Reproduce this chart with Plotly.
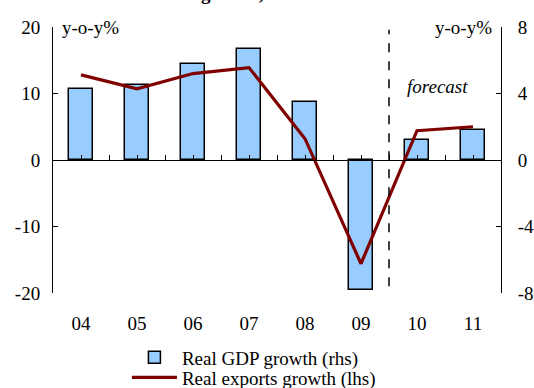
import numpy as np
import plotly.graph_objects as go

years = ["04", "05", "06", "07", "08", "09", "10", "11"]
gdp_growth = [4.3, 4.5, 5.8, 6.7, 3.5, -7.8, 1.2, 1.8]          # rhs
exports_growth = [12.8, 10.7, 13.0, 13.9, 3.2, -15.6, 4.4, 5.0]  # lhs
lhs_ticks = [-20, -10, 0, 10, 20]
rhs_ticks = [-8, -4, 0, 4, 8]

x = np.arange(len(years))
FONT = "Liberation Serif"
FS = 19

fig = go.Figure()
fig.add_trace(go.Bar(
    x=x, y=gdp_growth, name="Real GDP growth (rhs)",
    marker=dict(color="#99CCFF", line=dict(color="black", width=1.5)),
    width=0.43, xaxis="x", yaxis="y", legend="legend",
))
fig.add_trace(go.Scatter(
    x=x, y=exports_growth, name="Real exports growth (lhs)",
    mode="lines", line=dict(color="#800000", width=3.2),
    xaxis="x2", yaxis="y2", legend="legend2",
))

leg_common = dict(xanchor="left", yanchor="middle", orientation="v",
                  font=dict(size=FS, family=FONT), itemwidth=45,
                  bgcolor="rgba(0,0,0,0)")

fig.update_layout(
    width=534, height=388,
    margin=dict(l=53, r=33, t=27, b=95, autoexpand=False),
    paper_bgcolor="white", plot_bgcolor="white",
    font=dict(family=FONT, size=FS, color="black"),
    showlegend=True,
    legend=dict(x=0.165, y=-0.242, **leg_common),
    legend2=dict(x=0.165, y=-0.318, **leg_common),
    xaxis=dict(range=[-0.5, 7.5], tickvals=list(x), ticktext=years,
               showline=False, showgrid=False, zeroline=False,
               ticks="outside", ticklen=13, tickcolor="rgba(0,0,0,0)",
               automargin=False, tickfont=dict(size=FS)),
    xaxis2=dict(range=[-0.5, 7.5], overlaying="x", anchor="free", position=0.5,
                side="bottom", showline=True, linecolor="black", linewidth=1,
                ticks="inside", ticklen=5, tickcolor="black", tickwidth=1,
                tickvals=list(np.arange(-0.5, 7.51, 0.5)),
                showticklabels=False, showgrid=False, zeroline=False,
                automargin=False),
    yaxis=dict(range=[-8, 8], tickvals=rhs_ticks,
               ticktext=[str(v) for v in rhs_ticks], side="right",
               showline=True, linecolor="black", linewidth=1,
               ticks="inside", ticklen=5, tickcolor="black",
               showgrid=False, zeroline=False, ticklabelstandoff=12,
               automargin=False, tickfont=dict(size=FS)),
    yaxis2=dict(range=[-20, 20], tickvals=lhs_ticks,
                ticktext=[str(v) for v in lhs_ticks], side="left",
                overlaying="y", anchor="x2",
                showline=True, linecolor="black", linewidth=1,
                ticks="inside", ticklen=5, tickcolor="black",
                showgrid=False, zeroline=False, ticklabelstandoff=8,
                automargin=False, tickfont=dict(size=FS)),
    bargap=0,
)

fig.add_shape(type="line", xref="x", yref="paper", x0=5.5, x1=5.5, y0=0.025, y1=0.99,
              line=dict(color="black", width=1.5, dash="dash"))

fig.add_annotation(text="y-o-y%", xref="paper", yref="paper", x=0.015, y=1.0,
                   xanchor="left", yanchor="middle", showarrow=False,
                   font=dict(size=FS, family=FONT))
fig.add_annotation(text="y-o-y%", xref="paper", yref="paper", x=0.985, y=1.0,
                   xanchor="right", yanchor="middle", showarrow=False,
                   font=dict(size=FS, family=FONT))
fig.add_annotation(text="<i>forecast</i>", xref="x", yref="y", x=6.36, y=4.45,
                   xanchor="center", yanchor="middle", showarrow=False,
                   font=dict(size=FS, family=FONT))
fig.add_annotation(text="<b>growth, volumes</b>", xref="paper", yref="paper",
                   x=0.48, y=1.125, xanchor="center", yanchor="middle", showarrow=False,
                   font=dict(size=FS, family=FONT))

fig.write_html(
    "out.html",
    config={"displayModeBar": False},
    post_script="document.body.style.margin='0';document.body.style.overflow='hidden';",
)
